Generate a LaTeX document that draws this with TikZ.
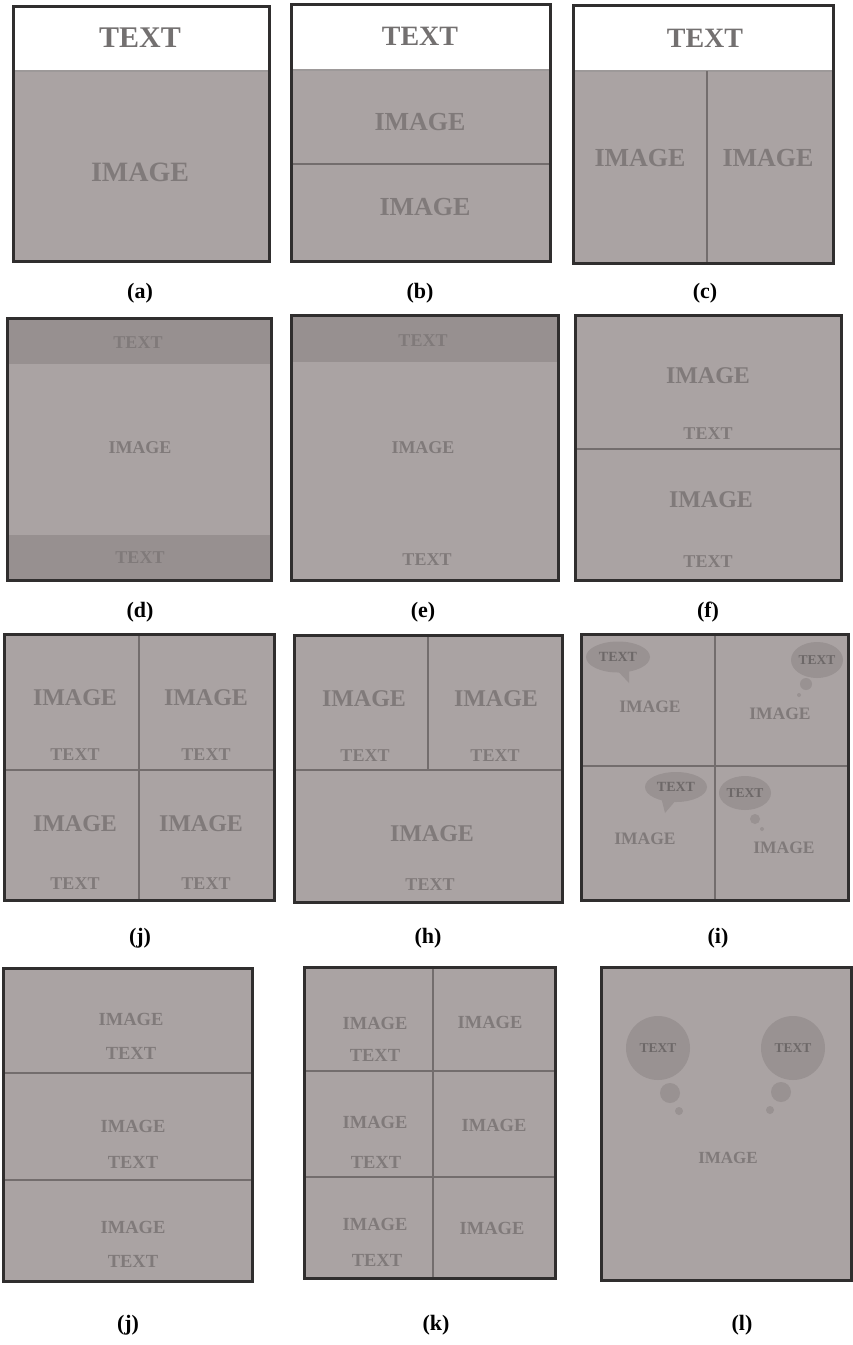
\documentclass[tikz,border=0pt]{standalone}
\usepackage{fontspec}
\setmainfont{Liberation Serif}
\usepackage{xcolor}
\usetikzlibrary{shapes.geometric, positioning}

\definecolor{panelgray}{RGB}{170,163,163}
\definecolor{bandgray}{RGB}{151,144,144}
\definecolor{bubblegray}{RGB}{153,146,146}
\definecolor{divgray}{RGB}{115,109,109}
\definecolor{framedark}{RGB}{48,46,46}
\definecolor{inktext}{RGB}{128,122,122}
\definecolor{headink}{RGB}{115,112,112}

\tikzset{
  framebox/.style={draw=framedark, line width=3pt},
  divline/.style={draw=divgray, line width=2.2pt},
  headline/.style={draw=divgray!70, line width=1.2pt},
  inklabel/.style={
    font=\bfseries\fontsize{#1}{#1}\selectfont, text=inktext, inner sep=0pt
  },
  inklabel/.default=24,
  headlabel/.style={
    font=\bfseries\fontsize{#1}{#1}\selectfont, text=headink, inner sep=0pt
  },
  headlabel/.default=28,
  caplabel/.style={
    font=\bfseries\fontsize{22}{22}\selectfont, text=black, inner sep=0pt
  },
  speechcloud/.style={
    ellipse, fill=bubblegray, inner sep=0pt,
    font=\bfseries\fontsize{14}{14}\selectfont, text=inktext!85!black
  },
  thinkcloud/.style={
    circle, fill=bubblegray, inner sep=0pt,
    font=\bfseries\fontsize{13.5}{13.5}\selectfont, text=inktext!85!black
  },
}

\begin{document}
\begin{tikzpicture}[x=1pt, y=-1pt]
  \useasboundingbox (0,0) rectangle (853,1345);

  % --- (a) text header, one image ---
  \fill[panelgray] (13,71) rectangle (269,261);
  \draw[headline] (13,71) -- (269,71);
  \draw[framebox] (13,6) rectangle (269,261);
  \node[headlabel=30] (a-text) at (140,38) {TEXT};
  \node[inklabel=28] (a-img) at (140,172) {IMAGE};
  \node[caplabel] (a-cap) at (140,293) {(a)};

  % --- (b) text header, two images stacked ---
  \fill[panelgray] (291,70) rectangle (550,261);
  \draw[headline] (291,70) -- (550,70);
  \draw[divline] (291,164) -- (550,164);
  \draw[framebox] (291,4) rectangle (550,261);
  \node[headlabel] (b-text) at (420,36) {TEXT};
  \node[inklabel=26] (b-img1) at (420,122) {IMAGE};
  \node[inklabel=26] (b-img2) at (425,207) {IMAGE};
  \node[caplabel] (b-cap) at (420,293) {(b)};

  % --- (c) text header, two images side by side ---
  \fill[panelgray] (573,71) rectangle (833,263);
  \draw[headline] (573,71) -- (833,71);
  \draw[divline] (707,71) -- (707,263);
  \draw[framebox] (573,5) rectangle (833,263);
  \node[headlabel] (c-text) at (705,38) {TEXT};
  \node[inklabel=26] (c-img1) at (640,158) {IMAGE};
  \node[inklabel=26] (c-img2) at (768,158) {IMAGE};
  \node[caplabel] (c-cap) at (705,293) {(c)};

  % --- (d) top and bottom bands ---
  \fill[panelgray] (7,318) rectangle (271,580);
  \fill[bandgray] (7,318) rectangle (271,364);
  \fill[bandgray] (7,535) rectangle (271,580);
  \draw[framebox] (7,318) rectangle (271,580);
  \node[inklabel=18] (d-text1) at (138,343) {TEXT};
  \node[inklabel=18] (d-img) at (140,448) {IMAGE};
  \node[inklabel=18] (d-text2) at (140,558) {TEXT};
  \node[caplabel] (d-cap) at (140,612) {(d)};

  % --- (e) top band only ---
  \fill[panelgray] (291,315) rectangle (558,580);
  \fill[bandgray] (291,315) rectangle (558,362);
  \draw[framebox] (291,315) rectangle (558,580);
  \node[inklabel=18] (e-text1) at (423,341) {TEXT};
  \node[inklabel=18] (e-img) at (423,448) {IMAGE};
  \node[inklabel=18] (e-text2) at (427,560) {TEXT};
  \node[caplabel] (e-cap) at (423,612) {(e)};

  % --- (f) two stacked image/text ---
  \fill[panelgray] (575,315) rectangle (841,580);
  \draw[divline] (575,449) -- (841,449);
  \draw[framebox] (575,315) rectangle (841,580);
  \node[inklabel] (f-img1) at (708,376) {IMAGE};
  \node[inklabel=18] (f-text1) at (708,434) {TEXT};
  \node[inklabel] (f-img2) at (711,500) {IMAGE};
  \node[inklabel=18] (f-text2) at (708,562) {TEXT};
  \node[caplabel] (f-cap) at (708,612) {(f)};

  % --- (j) four quarters ---
  \fill[panelgray] (4,634) rectangle (274,900);
  \draw[divline] (139,634) -- (139,900);
  \draw[divline] (4,770) -- (274,770);
  \draw[framebox] (4,634) rectangle (274,900);
  \node[inklabel] (j-img1) at (75,698) {IMAGE};
  \node[inklabel] (j-img2) at (206,698) {IMAGE};
  \node[inklabel=18] (j-text1) at (75,755) {TEXT};
  \node[inklabel=18] (j-text2) at (206,755) {TEXT};
  \node[inklabel] (j-img3) at (75,824) {IMAGE};
  \node[inklabel] (j-img4) at (201,824) {IMAGE};
  \node[inklabel=18] (j-text3) at (75,884) {TEXT};
  \node[inklabel=18] (j-text4) at (206,884) {TEXT};
  \node[caplabel] (j-cap) at (140,938) {(j)};

  % --- (h) two small over one wide ---
  \fill[panelgray] (294,635) rectangle (562,902);
  \draw[divline] (428,635) -- (428,770);
  \draw[divline] (294,770) -- (562,770);
  \draw[framebox] (294,635) rectangle (562,902);
  \node[inklabel] (h-img1) at (364,699) {IMAGE};
  \node[inklabel] (h-img2) at (496,699) {IMAGE};
  \node[inklabel=18] (h-text1) at (365,756) {TEXT};
  \node[inklabel=18] (h-text2) at (495,756) {TEXT};
  \node[inklabel] (h-img3) at (432,834) {IMAGE};
  \node[inklabel=18] (h-text3) at (430,885) {TEXT};
  \node[caplabel] (h-cap) at (428,938) {(h)};

  % --- (i) four quarters with bubbles ---
  \fill[panelgray] (581,634) rectangle (848,900);
  \draw[divline] (715,634) -- (715,900);
  \draw[divline] (581,766) -- (848,766);
  \draw[framebox] (581,634) rectangle (848,900);
  \fill[bubblegray] (614,667) -- (629,683) -- (629,667) -- cycle;
  \node[speechcloud, minimum width=64pt, minimum height=31pt] (i-say1) at (618,657) {TEXT};
  \node[inklabel=17.5] (i-img1) at (650,707) {IMAGE};
  \node[thinkcloud, ellipse, minimum width=44pt, minimum height=36pt] (i-think1) at (817,660) {TEXT};
  \node[thinkcloud, minimum size=12pt] (i-puff1) at (806,684) {};
  \node[thinkcloud, minimum size=4pt] (i-dot1) at (799,695) {};
  \node[inklabel=17.5] (i-img2) at (780,714) {IMAGE};
  \fill[bubblegray] (661,797) -- (665,813) -- (677,799) -- cycle;
  \node[speechcloud, minimum width=62pt, minimum height=30pt] (i-say2) at (676,787) {TEXT};
  \node[inklabel=17.5] (i-img3) at (645,839) {IMAGE};
  \node[thinkcloud, ellipse, minimum width=48pt, minimum height=34pt] (i-think2) at (745,793) {TEXT};
  \node[thinkcloud, minimum size=10pt] (i-puff2) at (755,819) {};
  \node[thinkcloud, minimum size=4pt] (i-dot2) at (762,829) {};
  \node[inklabel=17.5] (i-img4) at (784,848) {IMAGE};
  \node[caplabel] (i-cap) at (718,938) {(i)};

  % --- (j) three stacked rows ---
  \fill[panelgray] (3,968) rectangle (252,1281);
  \draw[divline] (3,1073) -- (252,1073);
  \draw[divline] (3,1180) -- (252,1180);
  \draw[framebox] (3,968) rectangle (252,1281);
  \node[inklabel=18.5] (jj-img1) at (131,1019) {IMAGE};
  \node[inklabel=18.5] (jj-text1) at (131,1053) {TEXT};
  \node[inklabel=18.5] (jj-img2) at (133,1126) {IMAGE};
  \node[inklabel=18.5] (jj-text2) at (133,1162) {TEXT};
  \node[inklabel=18.5] (jj-img3) at (133,1227) {IMAGE};
  \node[inklabel=18.5] (jj-text3) at (133,1261) {TEXT};
  \node[caplabel] (jj-cap) at (128,1325) {(j)};

  % --- (k) three rows, two columns ---
  \fill[panelgray] (304,967) rectangle (555,1278);
  \draw[divline] (433,967) -- (433,1278);
  \draw[divline] (304,1071) -- (555,1071);
  \draw[divline] (304,1177) -- (555,1177);
  \draw[framebox] (304,967) rectangle (555,1278);
  \node[inklabel=18.5] (k-img1) at (375,1023) {IMAGE};
  \node[inklabel=18.5] (k-text1) at (375,1055) {TEXT};
  \node[inklabel=18.5] (k-img2) at (490,1022) {IMAGE};
  \node[inklabel=18.5] (k-img3) at (375,1122) {IMAGE};
  \node[inklabel=18.5] (k-text2) at (376,1162) {TEXT};
  \node[inklabel=18.5] (k-img4) at (494,1125) {IMAGE};
  \node[inklabel=18.5] (k-img5) at (375,1224) {IMAGE};
  \node[inklabel=18.5] (k-text3) at (377,1260) {TEXT};
  \node[inklabel=18.5] (k-img6) at (492,1228) {IMAGE};
  \node[caplabel] (k-cap) at (436,1325) {(k)};

  % --- (l) one image with two thought clouds ---
  \fill[panelgray] (601,967) rectangle (851,1280);
  \draw[framebox] (601,967) rectangle (851,1280);
  \node[thinkcloud, minimum size=64pt] (l-think1) at (658,1048) {TEXT};
  \node[thinkcloud, minimum size=20pt] (l-puff1) at (670,1093) {};
  \node[thinkcloud, minimum size=8pt] (l-dot1) at (679,1111) {};
  \node[thinkcloud, minimum size=64pt] (l-think2) at (793,1048) {TEXT};
  \node[thinkcloud, minimum size=20pt] (l-puff2) at (781,1092) {};
  \node[thinkcloud, minimum size=8pt] (l-dot2) at (770,1110) {};
  \node[inklabel=17] (l-img) at (728,1158) {IMAGE};
  \node[caplabel] (l-cap) at (742,1325) {(l)};

\end{tikzpicture}
\end{document}
